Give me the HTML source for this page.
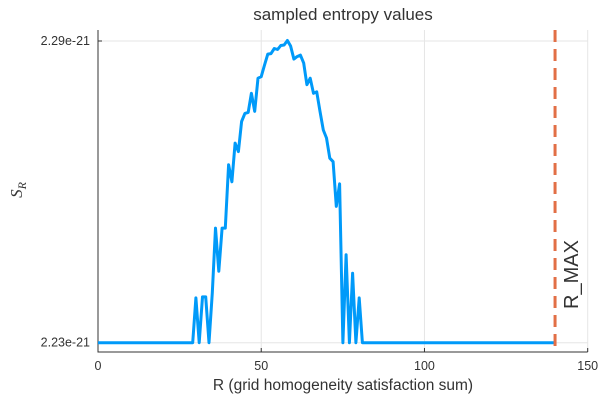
<!DOCTYPE html>
<html><head><meta charset="utf-8"><style>
body{margin:0;background:#fff}
svg{display:block;font-family:"Liberation Sans",sans-serif}
</style></head><body>
<svg id="chart" width="600" height="400" viewBox="0 0 600 400">
<rect width="600" height="400" fill="#fff"/>
<text x="343" y="20" text-anchor="middle" font-size="17" fill="#333">sampled entropy values</text>
<g id="grid"></g>
<g id="axes"></g>
<g id="series"></g>
<text x="343" y="390" text-anchor="middle" font-size="15.5" fill="#333">R (grid homogeneity satisfaction sum)</text>
<text transform="translate(22,190) rotate(-90)" text-anchor="middle" font-size="17" font-style="italic" fill="#333" font-family="Liberation Serif,serif">S<tspan font-size="12" dy="4">R</tspan></text>
</svg>
<script>
const xTicks=[0,50,100,150];
const yTicks=[2.23,2.29];
const yTickLabels=["2.23e-21","2.29e-21"];
const rMax=140;
const rValues=[];for(let r=0;r<=140;r++)rValues.push(r);
const peakStart=30;
const peakValues=[2.2389,2.23,2.2391,2.2391,2.23,2.2399,2.2528,2.2442,2.2528,2.2528,2.2654,2.2620,2.2697,2.2680,2.2740,2.2756,2.2758,2.2796,2.2760,2.2826,2.2829,2.2852,2.2874,2.2875,2.2885,2.2883,2.2891,2.2892,2.2901,2.2890,2.2864,2.2869,2.2872,2.2856,2.2813,2.2826,2.2796,2.2799,2.2760,2.2723,2.2707,2.2667,2.2660,2.2571,2.2616,2.23,2.2475,2.23,2.2438,2.23,2.2389,2.23];
const baseValue=2.23;
const X0=98,X1=587.7,Y0=342.7,Y1=41,T=30,B=352;
const xs=v=>X0+(v-0)/150*(X1-X0);
const ys=v=>Y0+(v-2.23)/(2.29-2.23)*(Y1-Y0);
const NS="http://www.w3.org/2000/svg";
function mk(t,a,p){const e=document.createElementNS(NS,t);for(const k in a)e.setAttribute(k,a[k]);p.appendChild(e);return e;}
const grid=document.getElementById('grid'),axes=document.getElementById('axes'),series=document.getElementById('series');
xTicks.forEach(t=>{const l=mk('line',{x1:xs(t),x2:xs(t),y1:T,y2:B,stroke:'#e6e6e6','stroke-width':1},grid);


const k=mk('line',{x1:xs(t),x2:xs(t),y1:B,y2:B-4,stroke:'#333','stroke-width':1},axes);


const tx=mk('text',{x:xs(t),y:B+18,'text-anchor':'middle','font-size':12.5,fill:'#333'},axes);tx.textContent=t;

});
yTicks.forEach((t,i)=>{const l=mk('line',{x1:X0,x2:X1,y1:ys(t),y2:ys(t),stroke:'#e6e6e6','stroke-width':1},grid);


const k=mk('line',{x1:X0,x2:X0+4,y1:ys(t),y2:ys(t),stroke:'#333','stroke-width':1},axes);


const tx=mk('text',{x:X0-8,y:ys(t)+4,'text-anchor':'end','font-size':12.5,fill:'#333'},axes);tx.textContent=yTickLabels[i];

});
const ax=mk('path',{d:`M${X0},${T} V${B} H${X1}`,fill:'none',stroke:'#333','stroke-width':1},axes);


const pts=rValues.map(r=>{const i=r-peakStart;const v=(i>=0&&i<peakValues.length)?peakValues[i]:baseValue;return xs(r).toFixed(1)+','+ys(v).toFixed(1);});
const line=mk('polyline',{points:pts.join(' '),fill:'none',stroke:'#009af9','stroke-width':3,'stroke-linejoin':'round'},series);


const rm=mk('line',{x1:xs(rMax),x2:xs(rMax),y1:T,y2:B,stroke:'#e26f46','stroke-width':3,'stroke-dasharray':'12 7'},series);


const lab=mk('text',{transform:`translate(${xs(rMax)+23},${309}) rotate(-90)`,'font-size':20,fill:'#333'},series);lab.textContent='R_MAX';


</script>
</body></html>
